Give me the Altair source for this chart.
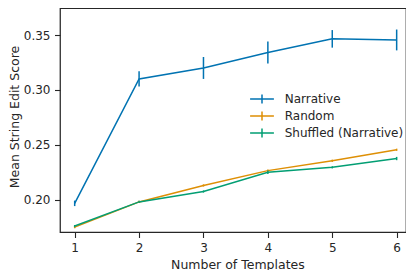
import altair as alt
import pandas as pd

templates = [1, 2, 3, 4, 5, 6]
series_names = ["Narrative", "Random", "Shuffled (Narrative)"]
narrative = [0.1967, 0.310, 0.320, 0.334, 0.3465, 0.3455]
narrative_err = [0.0025, 0.007, 0.010, 0.010, 0.008, 0.0095]
random_ = [0.175, 0.198, 0.213, 0.2265, 0.2355, 0.2455]
random_err = [0.001, 0.001, 0.001, 0.001, 0.001, 0.001]
shuffled = [0.176, 0.198, 0.2075, 0.225, 0.2295, 0.2375]
shuffled_err = [0.001, 0.001, 0.001, 0.0015, 0.001, 0.0015]
colors = ["#0173b2", "#de8f05", "#029e73"]

rows = []
for name, vals, errs in zip(series_names, [narrative, random_, shuffled],
                            [narrative_err, random_err, shuffled_err]):
    for t, v, e in zip(templates, vals, errs):
        rows.append({"Templates": t, "Score": v, "lo": v - e, "hi": v + e, "Series": name})
df = pd.DataFrame(rows)

font = "DejaVu Sans"
ink = "#262626"
x = alt.X("Templates:Q", scale=alt.Scale(domain=[0.772, 6.145], nice=False, zero=False),
          axis=alt.Axis(title="Number of Templates", values=templates, format="d",
                        grid=False, domain=False, tickSize=5.5, tickColor=ink, tickWidth=1.1,
                        labelPadding=5, titlePadding=4.5, titleX=177.4))
color = alt.Color("Series:N", scale=alt.Scale(domain=series_names, range=colors),
                  legend=alt.Legend(title=None, orient="none", legendX=194, legendY=83,
                                    symbolType="M-1.7,0H1.7M0,-0.65V0.65", symbolSize=196,
                                    symbolStrokeWidth=1.5, symbolFillColor="transparent",
                                    labelFontSize=12, labelFont=font, labelColor=ink,
                                    rowPadding=1, labelOffset=14.7, padding=0))

lines = alt.Chart(df).mark_line(strokeWidth=1.5).encode(
    x=x,
    y=alt.Y("Score:Q", scale=alt.Scale(domain=[0.1706, 0.3746], nice=False, zero=False),
            axis=alt.Axis(title="Mean String Edit Score", values=[0.20, 0.25, 0.30, 0.35],
                          format=".2f", grid=False, domain=False, tickSize=5.5, tickWidth=1.1,
                          tickColor=ink, labelPadding=4.5, titlePadding=2, titleY=108.5)),
    color=color,
)
bars = alt.Chart(df).mark_rule(strokeWidth=1.5).encode(
    x="Templates:Q", y="lo:Q", y2="hi:Q",
    color=alt.Color("Series:N", scale=alt.Scale(domain=series_names, range=colors), legend=None),
)

chart = alt.layer(lines, bars).properties(
    width=346, height=224,
    autosize=alt.AutoSizeParams(type="none"),
    padding={"left": 52, "top": 0, "right": 0, "bottom": 40},
).configure_view(stroke=ink, strokeWidth=1.25).configure_axis(
    labelFont=font, titleFont=font, labelFontSize=12, titleFontSize=12.5,
    labelColor=ink, titleColor=ink, titleFontWeight="normal",
)

chart.save("out.html", embed_options={"renderer": "svg", "actions": False})
